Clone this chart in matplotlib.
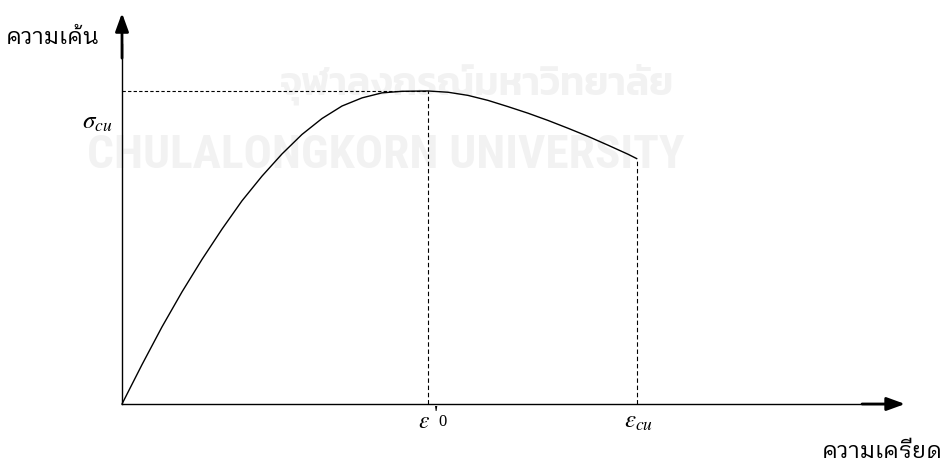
import matplotlib
matplotlib.use("Agg")
import matplotlib.pyplot as plt
from matplotlib import font_manager
from matplotlib.font_manager import FontProperties

plt.rcParams['mathtext.fontset'] = 'stix'

# stress-strain curve (strain, stress normalised to peak)
strain = [0, 0.131, 0.261, 0.392, 0.523, 0.654, 0.784, 0.915, 1.046, 1.176,
          1.307, 1.438, 1.569, 1.699, 1.830, 2.0,
          2.131, 2.261, 2.392, 2.523, 2.654, 2.784, 2.915, 3.046, 3.176,
          3.307, 3.364]
stress = [0, 0.126, 0.246, 0.358, 0.462, 0.559, 0.649, 0.728, 0.799, 0.861,
          0.912, 0.952, 0.978, 0.994, 0.999, 1.0,
          0.996, 0.986, 0.970, 0.950, 0.929, 0.906, 0.881, 0.855, 0.827,
          0.798, 0.784]

eps0 = 2.0
eps_cu = 3.364
sigma_cu = 1.0

y_label = "ความเค้น"
x_label = "ความเครียด"
wm_thai = "จุฬาลงกรณ์มหาวิทยาลัย"
wm_eng = "CHULALONGKORN UNIVERSITY"


def thai_font(size):
    # a looped Thai sans, closest to the labels in the picture
    for name in ["IBM Plex Sans Thai Looped", "Sarabun", "Noto Sans Thai Looped"]:
        for w in (400, 300):
            for f in font_manager.fontManager.ttflist:
                if f.name == name and f.style == "normal" and f.weight == w:
                    return FontProperties(fname=f.fname, size=size)
    return FontProperties(family=["Noto Sans Thai Looped", "DejaVu Sans"], size=size)


serif = ["Liberation Serif", "DejaVu Serif"]

fig = plt.figure(figsize=(9.5, 4.65), dpi=100)
ax = fig.add_axes([0, 0, 1, 1])
ax.set_xlim(-0.7974, 5.4118)
ax.set_ylim(-0.1949, 1.2907)
ax.axis("off")

# faint watermark
ax.text(2.32, 1.022, wm_thai, fontsize=28, fontweight="semibold", color="#f2f2f2",
        family=["Kanit", "DejaVu Sans"], ha="center", va="center", zorder=0)
ax.text(1.725, 0.796, wm_eng, fontsize=34, fontweight="bold", color="#f2f2f2",
        family=["Roboto Condensed", "DejaVu Sans"], ha="center", va="center", zorder=0)

# axes with arrows
ax.plot([0, 5.0], [0, 0], color="black", lw=1)
ax.plot([0, 0], [0, 1.15], color="black", lw=1)
arrow = dict(arrowstyle="-|>,head_length=1.1,head_width=0.4", lw=2, color="black",
             shrinkA=0, shrinkB=0, mutation_scale=10)
ax.annotate("", xy=(5.118, 0), xytext=(4.837, 0), arrowprops=arrow)
ax.annotate("", xy=(0, 1.249), xytext=(0, 1.105), arrowprops=arrow)

# curve
ax.plot(strain, stress, color="black", lw=1.0, zorder=3, solid_joinstyle="round")

# dashed guides
ax.plot([0, eps0], [sigma_cu, sigma_cu], color="black", lw=0.8, linestyle=(0, (3, 2)))
ax.plot([eps0, eps0], [0, sigma_cu], color="black", lw=0.8, linestyle=(0, (4, 2.5)))
ax.plot([eps_cu, eps_cu], [0, stress[-1]], color="black", lw=0.8, linestyle=(0, (4, 2.5)))

# labels
ax.text(-0.144, 1.169, y_label, fontproperties=thai_font(16.5), ha="right", va="center")
ax.text(5.366, -0.152, x_label, fontproperties=thai_font(16.5), ha="right", va="center")
ax.text(-0.160, 0.901, r"$\sigma_{cu}$", fontsize=18, ha="center", va="center")
ax.text(eps0 - 0.026, -0.054, r"$\varepsilon$", fontsize=17, ha="center", va="center")
ax.text(eps0 + 0.052, -0.038, "'", fontsize=17, family=serif, ha="center", va="center")
ax.text(eps0 + 0.097, -0.058, "0", fontsize=12, family=serif, ha="center", va="center")
ax.text(eps_cu + 0.01, -0.054, r"$\varepsilon_{cu}$", fontsize=18, ha="center", va="center")

fig.savefig("out.png")
